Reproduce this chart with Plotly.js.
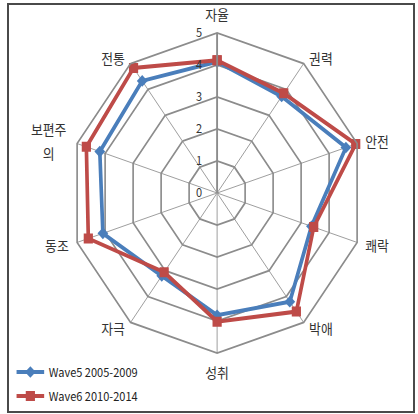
<!DOCTYPE html>
<html>
<head>
<meta charset="utf-8">
<script src="https://cdn.plot.ly/plotly-3.0.1.min.js"></script>
<style>
  html, body { margin: 0; padding: 0; background: #fff; width: 418px; height: 414px; overflow: hidden; }
  #chart { position: absolute; left: 0; top: 0; width: 454px; height: 414px; transform: scaleX(0.92); transform-origin: 0 0; }
  #frame { position: absolute; left: 7px; top: 3px; width: 404px; height: 406px; border: 2px solid #4a4a4a; pointer-events: none; }
</style>
</head>
<body>
<div id="chart"></div>
<div id="frame"></div>
<script>
// Schwartz value dimensions, clockwise from the top
const categories = ['자율', '권력', '안전', '쾌락', '박애', '성취', '자극', '동조', '보편주의', '전통'];
const categoryLabels = ['자율', '권력', '안전', '쾌락', '박애', '성취', '자극', '동조', '보편주<br>의', '전통'];

// Mean scores per wave
const wave5 = [4.1, 3.73, 4.6, 3.37, 4.2, 3.82, 3.2, 4.08, 4.19, 4.33];
const wave6 = [4.15, 3.85, 4.95, 3.45, 4.58, 4.02, 3.06, 4.6, 4.67, 4.83];

const seriesNames = ['Wave5 2005-2009', 'Wave6 2010-2014'];
const radialTicks = [0, 1, 2, 3, 4, 5];

// close each polygon by repeating the first point
const closeLoop = arr => arr.concat([arr[0]]);

const gridGray = '#8c8c8c';
const fontFamily = 'Noto Sans CJK KR, Noto Sans, sans-serif';
const labelFont = { family: fontFamily, size: 14, color: '#333333' };

const traces = [
  {
    type: 'scatterpolar',
    name: seriesNames[0],
    r: closeLoop(wave5),
    theta: closeLoop(categories),
    mode: 'lines+markers',
    line: { color: '#4a7ebb', width: 4 },
    marker: { symbol: 'diamond', size: 9, color: '#4a7ebb' },
    legend: 'legend',
    cliponaxis: false
  },
  {
    type: 'scatterpolar',
    name: seriesNames[1],
    r: closeLoop(wave6),
    theta: closeLoop(categories),
    mode: 'lines+markers',
    line: { color: '#be4b48', width: 4 },
    marker: { symbol: 'square', size: 10, color: '#be4b48' },
    legend: 'legend2',
    cliponaxis: false
  }
];

const legendFont = { family: fontFamily, size: 12, color: '#222222' };

// plot area: x 76..396, y 33..353 (px, before horizontal scaling)
const plotL = 76, plotW = 320, plotB = 353, plotH = 320;
const px2x = px => (px - plotL) / plotW;
const py2y = py => (plotB - py) / plotH;

// category captions sit just outside the outer ring, anchored away from the centre
const ringR = plotW / 2;
const captionGap = 7;
const lineGap = 24;
const annotations = [];
categories.forEach((name, i) => {
  const th = i * 2 * Math.PI / categories.length;
  const s = Math.sin(th), c = Math.cos(th);
  const side = Math.abs(s) < 0.1;
  const lines = categoryLabels[i].split('<br>');
  lines.forEach((t, k) => {
    annotations.push({
      xref: 'paper', yref: 'paper',
      x: 0.5 + (ringR + captionGap) * s / plotW,
      y: 0.5 + (ringR + captionGap) * c / plotH,
      xanchor: side ? 'center' : (s > 0 ? 'left' : 'right'),
      yanchor: side ? (c > 0 ? 'bottom' : 'top') : 'middle',
      yshift: ((lines.length - 1) / 2 - k) * lineGap,
      width: lines.length > 1 ? 44 : undefined,
      align: 'center',
      text: t,
      showarrow: false,
      font: labelFont
    });
  });
});

const layout = {
  width: 454,
  height: 414,
  margin: { l: plotL, r: 454 - plotL - plotW, t: 33, b: 414 - plotB, autoexpand: false },
  paper_bgcolor: '#ffffff',
  plot_bgcolor: '#ffffff',
  showlegend: true,
  annotations: annotations,
  legend: {
    x: px2x(13), y: py2y(372), xanchor: 'left', yanchor: 'middle',
    font: legendFont, bgcolor: 'rgba(0,0,0,0)', borderwidth: 0
  },
  legend2: {
    x: px2x(13), y: py2y(396), xanchor: 'left', yanchor: 'middle',
    font: legendFont, bgcolor: 'rgba(0,0,0,0)', borderwidth: 0
  },
  polar: {
    bgcolor: '#ffffff',
    gridshape: 'linear',
    domain: { x: [0, 1], y: [0, 1] },
    radialaxis: {
      range: [0, 5],
      tickvals: radialTicks,
      ticktext: radialTicks.map(String),
      angle: 90,
      tickangle: 90,
      side: 'counterclockwise',
      ticks: 'outside',
      ticklen: 11,
      tickcolor: 'rgba(0,0,0,0)',
      showline: true,
      linecolor: gridGray,
      linewidth: 2,
      gridcolor: gridGray,
      gridwidth: 1.8,
      tickfont: { family: fontFamily, size: 12, color: '#333333' }
    },
    angularaxis: {
      direction: 'clockwise',
      rotation: 90,
      type: 'category',
      categoryarray: categories,
      showticklabels: false,
      ticks: '',
      showline: true,
      linecolor: gridGray,
      linewidth: 1.8,
      gridcolor: '#9a9a9a',
      gridwidth: 1
    }
  }
};

Plotly.newPlot('chart', traces, layout, { displayModeBar: false, staticPlot: true });
</script>
</body>
</html>
